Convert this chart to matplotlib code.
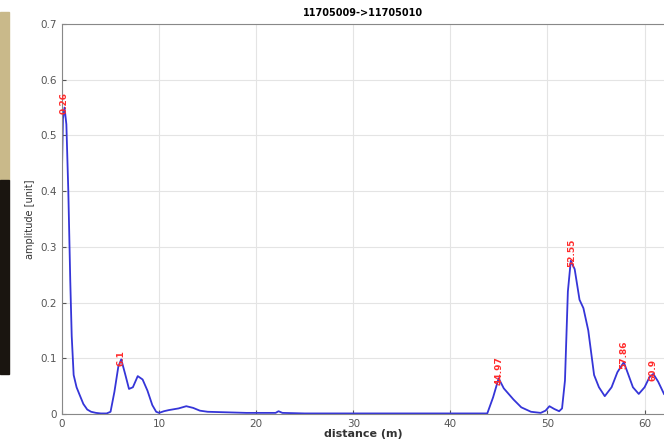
import numpy as np
from matplotlib import pyplot as plt
from matplotlib.patches import Rectangle

TITLE = "11705009->11705010"

distance = [
    0.0, 0.1, 0.26, 0.45, 0.65, 0.85, 1.0, 1.2, 1.5, 1.8, 2.2, 2.6, 3.0, 3.5, 4.0, 4.6, 5.0,
    5.4, 5.8, 6.1, 6.5, 6.9, 7.3, 7.8, 8.3, 8.8, 9.3, 9.7, 10.0, 10.5, 11.0, 12.0, 12.8,
    13.5, 14.2, 15.0, 17.0, 19.0, 21.0, 22.0, 22.3, 22.7, 25.0, 30.0, 35.0, 40.0, 43.8,
    44.4, 44.97, 45.5, 46.5, 47.3, 48.3, 49.3, 49.8, 50.2, 50.7, 51.2, 51.5, 51.8, 52.1,
    52.4, 52.8, 53.3, 53.7, 54.2, 54.8, 55.3, 55.9, 56.6, 57.2, 57.86, 58.3, 58.8, 59.4,
    60.0, 60.5, 60.9, 61.4, 62.0,
]
amplitude = [
    0.44, 0.53, 0.55, 0.52, 0.40, 0.24, 0.14, 0.07, 0.048, 0.035, 0.018, 0.008, 0.004, 0.002,
    0.001, 0.001, 0.004, 0.04, 0.085, 0.098, 0.072, 0.045, 0.048, 0.068, 0.062, 0.042, 0.016,
    0.004, 0.002, 0.005, 0.007, 0.010, 0.014, 0.011, 0.006, 0.004, 0.003, 0.002, 0.002,
    0.002, 0.005, 0.002, 0.001, 0.001, 0.001, 0.001, 0.001, 0.03, 0.064, 0.046, 0.026,
    0.012, 0.004, 0.002, 0.006, 0.014, 0.009, 0.005, 0.01, 0.06, 0.22, 0.275, 0.26, 0.205,
    0.19, 0.15, 0.07, 0.048, 0.032, 0.048, 0.075, 0.093, 0.072, 0.048, 0.036, 0.048, 0.066,
    0.072, 0.058, 0.036,
]

peak_pos = [0.26, 6.1, 44.97, 52.55, 57.86, 60.9]
peak_amp = [0.55, 0.098, 0.064, 0.275, 0.093, 0.072]
peak_text = ["0.26", "6.1", "44.97", "52.55", "57.86", "60.9"]

fig = plt.figure(figsize=(6.64, 4.44), dpi=100)
ax = fig.add_axes([62 / 664, 30 / 444, 602 / 664, 390 / 444])

# bit of the background window peeking in on the left
fig.patches.append(Rectangle((0, 264 / 444), 9 / 664, 168 / 444, transform=fig.transFigure,
                             color="#c9b98a", zorder=-1))
fig.patches.append(Rectangle((0, 70 / 444), 9 / 664, 194 / 444, transform=fig.transFigure,
                             color="#1a1510", zorder=-1))

ax.plot(distance, amplitude, color="#3535d8", lw=1.3)
for x, y, t in zip(peak_pos, peak_amp, peak_text):
    ax.text(x, y - 0.012, t, rotation=90, color="#ff2a2a", fontsize=6.5,
            fontweight="bold", ha="center", va="bottom")

ax.set_xlim(0, 62)
ax.set_ylim(0, 0.7)
ax.set_xticks(range(0, 61, 10))
ax.set_yticks(np.arange(0, 0.71, 0.1))
ax.set_yticklabels(["0", "0.1", "0.2", "0.3", "0.4", "0.5", "0.6", "0.7"])
ax.grid(color="#e4e4e4", lw=0.8)
ax.tick_params(direction="in", labelsize=7.5, colors="#555555", length=3)
for s in ax.spines.values():
    s.set_color("#888888")
ax.spines["right"].set_visible(False)
ax.set_title(TITLE, fontsize=7, fontweight="bold", pad=6)
ax.set_xlabel("distance (m)", fontsize=8, fontweight="bold", labelpad=0, color="#333333")
ax.set_ylabel("amplitude [unit]", fontsize=7, labelpad=4, color="#333333")

fig.savefig("out.png", dpi=100)
